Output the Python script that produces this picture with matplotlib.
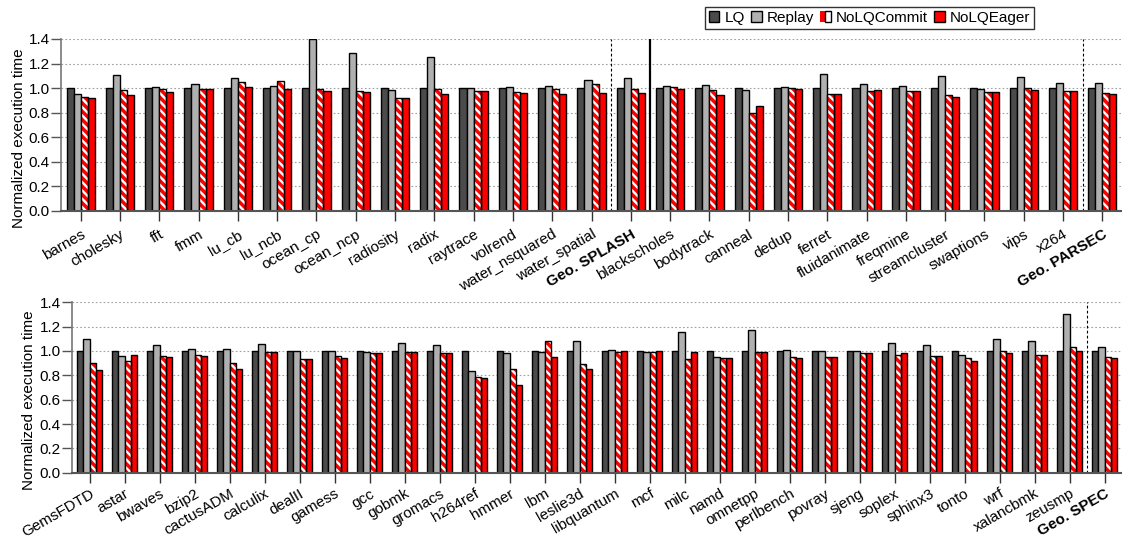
import matplotlib
matplotlib.use("Agg")
import matplotlib.pyplot as plt
import numpy as np
from matplotlib.patches import Patch
from matplotlib.legend_handler import HandlerTuple
from matplotlib.transforms import ScaledTranslation

plt.rcParams["font.family"] = ["Liberation Sans", "DejaVu Sans"]
plt.rcParams["hatch.linewidth"] = 1.7

# ---------------- data ----------------
series_names = ["LQ", "Replay", "NoLQCommit", "NoLQEager"]

top_labels = ["barnes", "cholesky", "fft", "fmm", "lu_cb", "lu_ncb", "ocean_cp",
              "ocean_ncp", "radiosity", "radix", "raytrace", "volrend",
              "water_nsquared", "water_spatial", "Geo. SPLASH",
              "blackscholes", "bodytrack", "canneal", "dedup", "ferret",
              "fluidanimate", "freqmine", "streamcluster", "swaptions", "vips",
              "x264", "Geo. PARSEC"]
top_lq = [1.0] * 27
top_replay = [0.951, 1.106, 1.008, 1.033, 1.082, 1.019, 1.397, 1.288, 0.984,
              1.253, 1.000, 1.008, 1.016, 1.065, 1.082,
              1.016, 1.024, 0.986, 1.008, 1.114, 1.033, 1.019, 1.098, 0.995,
              1.087, 1.038, 1.038]
top_commit = [0.927, 0.981, 0.992, 0.995, 1.052, 1.057, 0.992, 0.976, 0.916,
              0.992, 0.976, 0.967, 0.989, 1.035, 0.989,
              1.008, 0.984, 0.799, 0.997, 0.948, 0.976, 0.978, 0.946, 0.967,
              1.000, 0.976, 0.956]
top_eager = [0.918, 0.946, 0.965, 0.995, 1.005, 0.989, 0.976, 0.965, 0.916,
             0.954, 0.976, 0.962, 0.948, 0.959, 0.962,
             0.989, 0.943, 0.850, 0.992, 0.948, 0.981, 0.978, 0.927, 0.967,
             0.984, 0.976, 0.954]

bot_labels = ["GemsFDTD", "astar", "bwaves", "bzip2", "cactusADM", "calculix",
              "dealII", "gamess", "gcc", "gobmk", "gromacs", "h264ref", "hmmer",
              "lbm", "leslie3d", "libquantum", "mcf", "milc", "namd", "omnetpp",
              "perlbench", "povray", "sjeng", "soplex", "sphinx3", "tonto",
              "wrf", "xalancbmk", "zeusmp", "Geo. SPEC"]
bot_lq = [1.0] * 30
bot_replay = [1.096, 0.962, 1.047, 1.016, 1.016, 1.058, 1.000, 1.003, 0.989,
              1.068, 1.047, 0.838, 0.981, 0.989, 1.085, 1.008, 0.989, 1.153,
              0.951, 1.175, 1.008, 1.000, 1.000, 1.068, 1.052, 0.970, 1.101,
              1.079, 1.307, 1.036]
bot_commit = [0.904, 0.921, 0.962, 0.970, 0.904, 0.995, 0.934, 0.962, 0.984,
              0.989, 0.986, 0.786, 0.849, 1.082, 0.890, 0.989, 0.995, 0.937,
              0.942, 0.989, 0.948, 0.951, 0.981, 0.970, 0.956, 0.942, 0.997,
              0.967, 1.036, 0.953]
bot_eager = [0.844, 0.970, 0.953, 0.962, 0.849, 0.992, 0.932, 0.945, 0.984,
             0.989, 0.981, 0.775, 0.723, 0.951, 0.855, 1.000, 1.003, 0.995,
             0.942, 0.989, 0.942, 0.951, 0.981, 0.981, 0.962, 0.915, 0.981,
             0.967, 1.000, 0.940]

bold_labels = {"Geo. SPLASH", "Geo. PARSEC", "Geo. SPEC"}

# ---------------- style ----------------
C_LQ = "#4b4b4b"
C_REPLAY = "#b0b0b0"
C_RED = "#ff0000"
HATCH = chr(92) * 4          # back-slash hatch, repeated for denser stripes
BAR_W = 0.18
EDGE_LW = 1.0
FS = 11


def striped(**kw):
    """Red face with white diagonal stripes."""
    return dict(color=C_RED, edgecolor="white", hatch=HATCH, linewidth=0, **kw)


def draw_panel(fig, ax, labels, lq, replay, commit, eager, dashed, solid,
               label_x, label_pad):
    x = np.arange(len(labels))
    offs = (np.arange(4) - 1.5) * BAR_W
    ax.bar(x + offs[0], lq, BAR_W, color=C_LQ, edgecolor="black",
           linewidth=EDGE_LW, zorder=3)
    ax.bar(x + offs[1], replay, BAR_W, color=C_REPLAY, edgecolor="black",
           linewidth=EDGE_LW, zorder=3)
    ax.bar(x + offs[2], commit, BAR_W, **striped(zorder=3))
    ax.bar(x + offs[2], commit, BAR_W, fill=False, edgecolor="black",
           linewidth=EDGE_LW, zorder=4)
    ax.bar(x + offs[3], eager, BAR_W, color=C_RED, edgecolor="black",
           linewidth=EDGE_LW, zorder=3)

    ax.set_xlim(-0.5, len(labels) - 0.5)
    ax.set_ylim(0, 1.4)
    yt = np.arange(0, 1.41, 0.2)
    ax.set_yticks(yt)
    ax.set_yticklabels([f"{v:.1f}" for v in yt], fontsize=FS)
    ax.set_xticks(x)
    ax.set_xticklabels(labels, rotation=30, ha="right", va="top",
                       rotation_mode="anchor", fontsize=FS)
    shift = ScaledTranslation(-4 / 100, 0, fig.dpi_scale_trans)
    for t in ax.get_xticklabels():
        t.set_transform(t.get_transform() + shift)
        if t.get_text() in bold_labels:
            t.set_fontweight("bold")
    ax.tick_params(axis="x", direction="out", length=7, width=1.0,
                   color="#333333", pad=label_pad)
    ax.tick_params(axis="y", direction="out", length=7, width=1.0,
                   color="#555555", pad=1)
    ax.yaxis.grid(True, linestyle=(0, (1.5, 2)), color="#a0a0a0",
                  linewidth=0.8, zorder=0)
    ax.set_axisbelow(True)
    for side in ("top", "right"):
        ax.spines[side].set_visible(False)
    ax.spines["left"].set_color("#777777")
    ax.spines["left"].set_linewidth(1.2)
    ax.spines["bottom"].set_color("#555555")
    ax.spines["bottom"].set_linewidth(1.5)
    ax.spines["bottom"].set_zorder(5)
    for xv in dashed:
        ax.axvline(xv, color="black", linestyle=(0, (2.5, 2)), linewidth=0.8,
                   zorder=5)
    for xv in solid:
        ax.axvline(xv, color="black", linewidth=1.6, zorder=5)
    ax.set_ylabel("Normalized execution time", fontsize=FS)
    ax.yaxis.set_label_coords(label_x, 0.425)


fig = plt.figure(figsize=(11.22, 5.39), dpi=100)
W, H = 1122, 539
ax_top = fig.add_axes([61 / W, 1 - 210.7 / H, (W - 61) / W, (210.7 - 39) / H])
ax_bot = fig.add_axes([72 / W, 1 - 472.7 / H, (W - 72) / W, (472.7 - 302.3) / H])

draw_panel(fig, ax_top, top_labels, top_lq, top_replay, top_commit, top_eager,
           dashed=[13.5, 25.5], solid=[14.5], label_x=(26 - 61) / (W - 61),
           label_pad=5)
draw_panel(fig, ax_bot, bot_labels, bot_lq, bot_replay, bot_commit, bot_eager,
           dashed=[28.5], solid=[], label_x=(36 - 72) / (W - 72),
           label_pad=3)

handles = [
    Patch(facecolor=C_LQ, edgecolor="black", linewidth=EDGE_LW),
    Patch(facecolor=C_REPLAY, edgecolor="black", linewidth=EDGE_LW),
    (Patch(**striped()),
     Patch(fill=False, edgecolor="black", linewidth=EDGE_LW)),
    Patch(facecolor=C_RED, edgecolor="black", linewidth=EDGE_LW),
]
leg = fig.legend(handles, series_names, loc="upper right",
                 bbox_to_anchor=(1034 / W, 1 - 7.3 / H), ncol=4,
                 fontsize=FS, frameon=True, fancybox=False,
                 borderaxespad=0, handlelength=0.7, handleheight=0.7,
                 handletextpad=0.33, columnspacing=0.4, borderpad=0.25,
                 handler_map={tuple: HandlerTuple(ndivide=None, pad=0)})
leg.get_frame().set_edgecolor("black")
leg.get_frame().set_linewidth(1.0)

fig.savefig("out.png", dpi=100)
